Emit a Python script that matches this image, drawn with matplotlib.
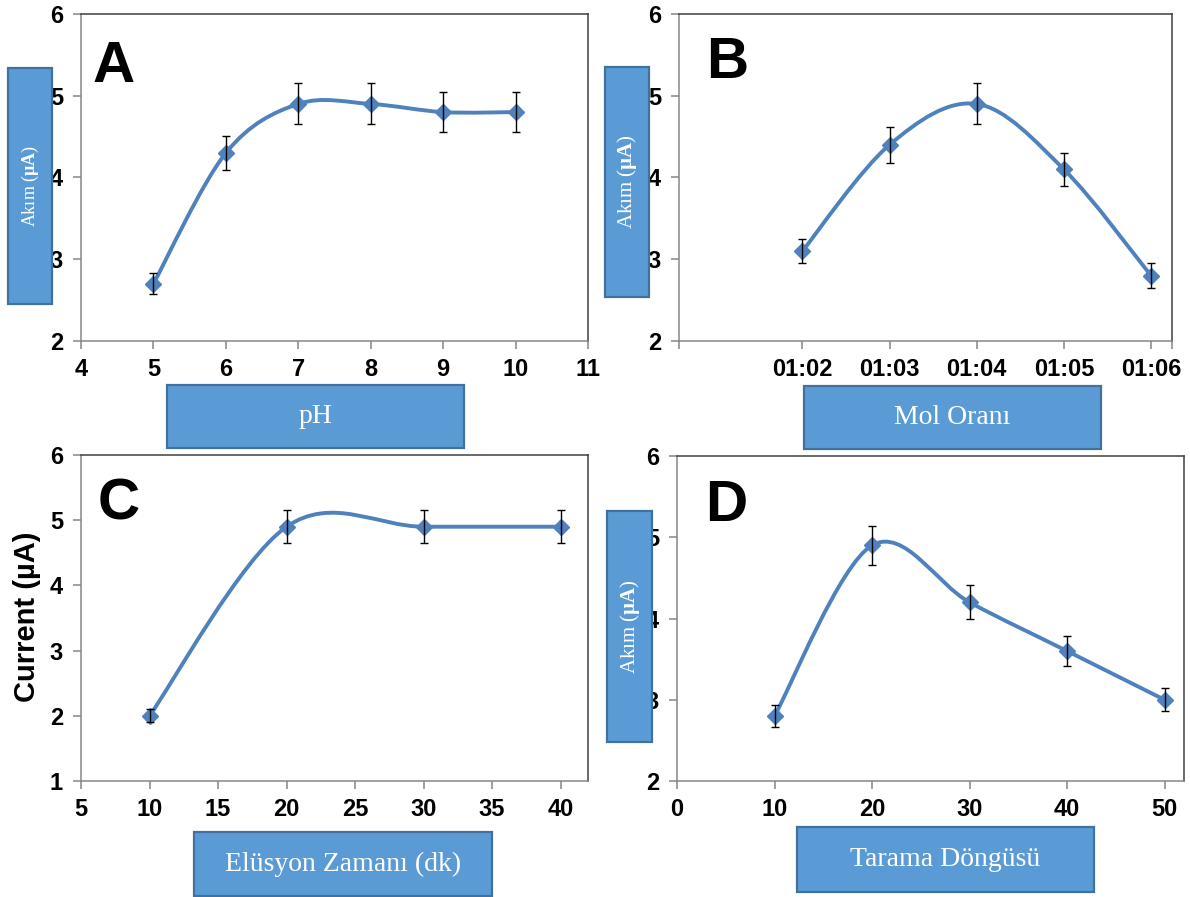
"""Four-panel optimisation plot (pH, mol ratio, elution time, scan cycles)."""

import matplotlib
matplotlib.use("Agg")
import matplotlib.pyplot as plt
from matplotlib.path import Path
from matplotlib.patches import PathPatch, Rectangle

# ---- data ---------------------------------------------------------------
ph_x = [5, 6, 7, 8, 9, 10]
ph_y = [2.7, 4.3, 4.9, 4.9, 4.8, 4.8]
ph_err = [0.13, 0.21, 0.25, 0.25, 0.24, 0.24]

mol_x = [2, 3, 4, 5, 6]
mol_labels = ["01:02", "01:03", "01:04", "01:05", "01:06"]
mol_y = [3.1, 4.4, 4.9, 4.1, 2.8]
mol_err = [0.15, 0.22, 0.25, 0.20, 0.15]

elu_x = [10, 20, 30, 40]
elu_y = [2.0, 4.9, 4.9, 4.9]
elu_err = [0.10, 0.25, 0.25, 0.25]

scan_x = [10, 20, 30, 40, 50]
scan_y = [2.8, 4.9, 4.2, 3.6, 3.0]
scan_err = [0.14, 0.24, 0.21, 0.18, 0.14]

W, H = 1190, 897
LINE = "#4F81BD"
BOX_FC = "#5B9BD5"
BOX_EC = "#41719C"
GRAY = "#868686"

plt.rcParams["font.family"] = ["Liberation Sans", "DejaVu Sans"]
plt.rcParams["mathtext.fontset"] = "custom"
plt.rcParams["mathtext.rm"] = "Liberation Serif"
plt.rcParams["mathtext.bf"] = "Liberation Serif:bold"


def fx(x):
    return x / W


def fy(y):
    return 1 - y / H


def smooth_path(x, y):
    """Excel-like smoothed line: cubic Bezier through the points."""
    pts = list(zip(x, y))
    n = len(pts)
    verts = [pts[0]]
    codes = [Path.MOVETO]
    for i in range(n - 1):
        p0 = pts[i - 1] if i > 0 else pts[i]
        p1, p2 = pts[i], pts[i + 1]
        p3 = pts[i + 2] if i + 2 < n else pts[i + 1]
        c1 = (p1[0] + (p2[0] - p0[0]) / 6, p1[1] + (p2[1] - p0[1]) / 6)
        c2 = (p2[0] - (p3[0] - p1[0]) / 6, p2[1] - (p3[1] - p1[1]) / 6)
        verts += [c1, c2, p2]
        codes += [Path.CURVE4] * 3
    return Path(verts, codes)


def make_axes(fig, left, top, right, bottom):
    ax = fig.add_axes([fx(left), fy(bottom), fx(right - left), (bottom - top) / H])
    for s in ("left", "bottom"):
        ax.spines[s].set_color(GRAY)
        ax.spines[s].set_linewidth(1.1)
    for s in ("top", "right"):
        ax.spines[s].set_color("#404040")
        ax.spines[s].set_linewidth(1.1)
    ax.tick_params(direction="out", length=6, width=1.1, color=GRAY,
                   labelsize=17, pad=6)
    ax.tick_params(axis="y", pad=7)
    return ax


def draw_series(ax, x, y, err):
    ax.add_patch(PathPatch(smooth_path(x, y), fill=False, ec=LINE, lw=2.8,
                           capstyle="round", zorder=2))
    ax.plot(x, y, "D", color=LINE, ms=8.5, zorder=3)
    ax.errorbar(x, y, yerr=err, fmt="none", ecolor="black", elinewidth=1.0,
                capsize=3, capthick=1.0, zorder=4)


def bold_ticks(ax):
    for lab in ax.get_xticklabels() + ax.get_yticklabels():
        lab.set_fontweight("bold")


def label_box(fig, x0, y0, x1, y1, text, size, rotation=0):
    fig.add_artist(Rectangle((fx(x0), fy(y1)), fx(x1 - x0), (y1 - y0) / H,
                             transform=fig.transFigure, fc=BOX_FC, ec=BOX_EC,
                             lw=1.6, zorder=5))
    fig.text(fx((x0 + x1) / 2), fy((y0 + y1) / 2), text, color="white",
             fontsize=size, family="Liberation Serif", rotation=rotation,
             ha="center", va="center", zorder=6)


def panel_letter(fig, x, y, letter):
    fig.text(fx(x), fy(y), letter, fontsize=42, fontweight="bold",
             family=["Liberation Sans Narrow", "Liberation Sans"],
             ha="left", va="baseline", zorder=6)


fig = plt.figure(figsize=(W / 100, H / 100), dpi=100)

# A: pH
ax = make_axes(fig, 81, 14, 588, 341)
draw_series(ax, ph_x, ph_y, ph_err)
ax.set_xlim(4, 11)
ax.set_ylim(2, 6)
ax.set_xticks(range(4, 12))
ax.set_yticks(range(2, 7))
bold_ticks(ax)

# B: mol ratio
ax = make_axes(fig, 679, 14, 1172, 341)
draw_series(ax, mol_x, mol_y, mol_err)
ax.set_xlim(0.584, 6.241)
ax.set_ylim(2, 6)
ax.set_xticks([0.584] + mol_x + [6.241])
ax.set_xticklabels([""] + mol_labels + [""])
ax.set_yticks(range(2, 7))
bold_ticks(ax)

# C: elution time
ax = make_axes(fig, 81, 455, 588, 781)
draw_series(ax, elu_x, elu_y, elu_err)
ax.set_xlim(5, 42)
ax.set_ylim(1, 6)
ax.set_xticks(range(5, 41, 5))
ax.set_yticks(range(1, 7))
bold_ticks(ax)

# D: scan cycles
ax = make_axes(fig, 677, 456, 1184, 781)
draw_series(ax, scan_x, scan_y, scan_err)
ax.set_xlim(0, 52)
ax.set_ylim(2, 6)
ax.set_xticks(range(0, 51, 10))
ax.set_yticks(range(2, 7))
bold_ticks(ax)

# panel letters
panel_letter(fig, 93, 82, "A")
panel_letter(fig, 706, 78, "B")
panel_letter(fig, 98, 520, "C")
panel_letter(fig, 705, 521, "D")

# axis label boxes
ylab = r"Akım ($\mathbf{µA}$)"
label_box(fig, 8, 68, 52, 304, ylab, 13, rotation=90)
label_box(fig, 167, 385, 464, 448, "pH", 20)
label_box(fig, 605, 67, 649, 297, ylab, 15, rotation=90)
label_box(fig, 804, 386, 1101, 449, "Mol Oranı", 20)
label_box(fig, 194, 832, 492, 896, "Elüsyon Zamanı (dk)", 20)
label_box(fig, 607, 511, 652, 742, ylab, 15, rotation=90)
label_box(fig, 797, 827, 1094, 892, "Tarama Döngüsü", 20)

fig.text(fx(27), fy(617), "Current (µA)", fontsize=21, fontweight="bold",
         rotation=90, ha="center", va="center")

fig.savefig("out.png", dpi=100)
